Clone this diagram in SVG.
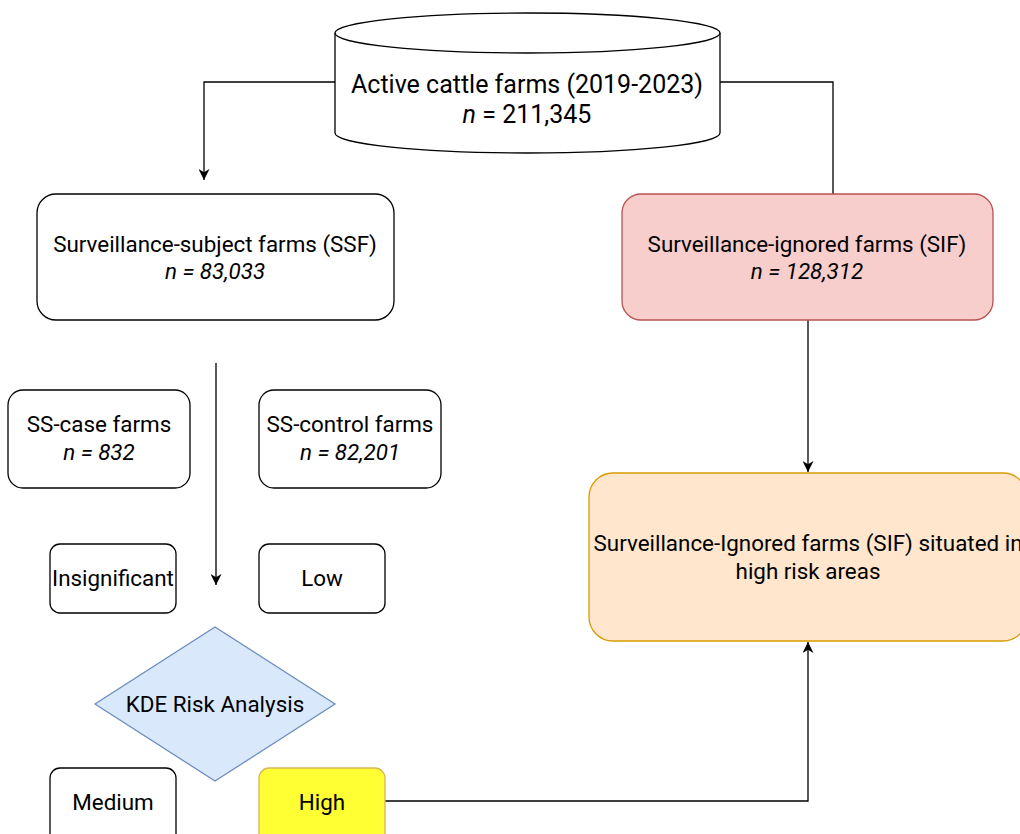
<svg xmlns="http://www.w3.org/2000/svg" width="1020" height="834" viewBox="0 0 1020 834">
<defs>
<marker id="arr" viewBox="0 0 10 10" refX="10" refY="5" markerWidth="11" markerHeight="11" markerUnits="userSpaceOnUse" orient="auto">
<path d="M0,0 L10,5 L0,10 L3,5 Z" fill="#000"/>
</marker>
<style>
text{font-family:Roboto,"Liberation Sans",sans-serif;fill:#000;text-anchor:middle}
.t{font-size:22.4px}
.big{font-size:25px}
.box{fill:#fff;stroke:#000;stroke-width:1.3}
.it{font-style:italic}
.con{fill:none;stroke:#000;stroke-width:1.3}
</style>
</defs>
<rect width="1020" height="834" fill="#fff"/>
<g id="connectors">
<path class="con" d="M335,82 H204 V180" marker-end="url(#arr)"/>
<path class="con" d="M720,82 H833 V194"/>
<path class="con" d="M808,320 V472" marker-end="url(#arr)"/>
<path class="con" d="M216,363 V585" marker-end="url(#arr)"/>
<path class="con" d="M385,801 H808 V642" marker-end="url(#arr)"/>
</g>
<g id="active">
<path class="box" d="M335,33 V133 A192.5,20 0 0 0 720,133 V33"/>
<ellipse class="box" cx="527.5" cy="33" rx="192.5" ry="20"/>
<text class="big" x="527" y="93">Active cattle farms (2019-2023)</text>
<text class="big" x="527" y="123"><tspan class="it">n</tspan> = 211,345</text>
</g>
<g id="ssf">
<rect class="box" x="37" y="194" width="357" height="126" rx="19"/>
<text class="t" x="215" y="252">Surveillance-subject farms (SSF)</text>
<text class="t it" x="215" y="279">n = 83,033</text>
</g>
<g id="sif">
<rect x="622" y="194" width="371" height="126" rx="19" fill="#f8cecc" stroke="#b85450" stroke-width="1.3"/>
<text class="t" x="807" y="252">Surveillance-ignored farms (SIF)</text>
<text class="t it" x="807" y="279">n = 128,312</text>
</g>
<g id="sshigh">
<rect x="589" y="473" width="438" height="168" rx="24" fill="#ffe6cc" stroke="#d79b00" stroke-width="1.3"/>
<text class="t" x="808" y="551">Surveillance-Ignored farms (SIF) situated in</text>
<text class="t" x="808" y="579">high risk areas</text>
</g>
<g id="sscase">
<rect class="box" x="8" y="390" width="182" height="98" rx="15"/>
<text class="t" x="99" y="432">SS-case farms</text>
<text class="t it" x="99" y="460">n = 832</text>
</g>
<g id="sscontrol">
<rect class="box" x="259" y="390" width="182" height="98" rx="15"/>
<text class="t" x="350" y="432">SS-control farms</text>
<text class="t it" x="350" y="460">n = 82,201</text>
</g>
<g id="insignificant">
<rect class="box" x="50" y="544" width="126" height="69" rx="10"/>
<text class="t" x="113" y="586">Insignificant</text>
</g>
<g id="low">
<rect class="box" x="259" y="544" width="126" height="69" rx="10"/>
<text class="t" x="322" y="586">Low</text>
</g>
<g id="kde">
<polygon points="215,627 335,704 215,781 95,704" fill="#dae8fc" stroke="#6c8ebf" stroke-width="1.3"/>
<text class="t" x="215" y="712">KDE Risk Analysis</text>
</g>
<g id="medium">
<rect class="box" x="50" y="768" width="126" height="80" rx="10"/>
<text class="t" x="113" y="810">Medium</text>
</g>
<g id="high">
<rect x="259" y="768" width="126" height="80" rx="10" fill="#ffff33" stroke="#d6b656" stroke-width="1.3"/>
<text class="t" x="322" y="810">High</text>
</g>
</svg>
